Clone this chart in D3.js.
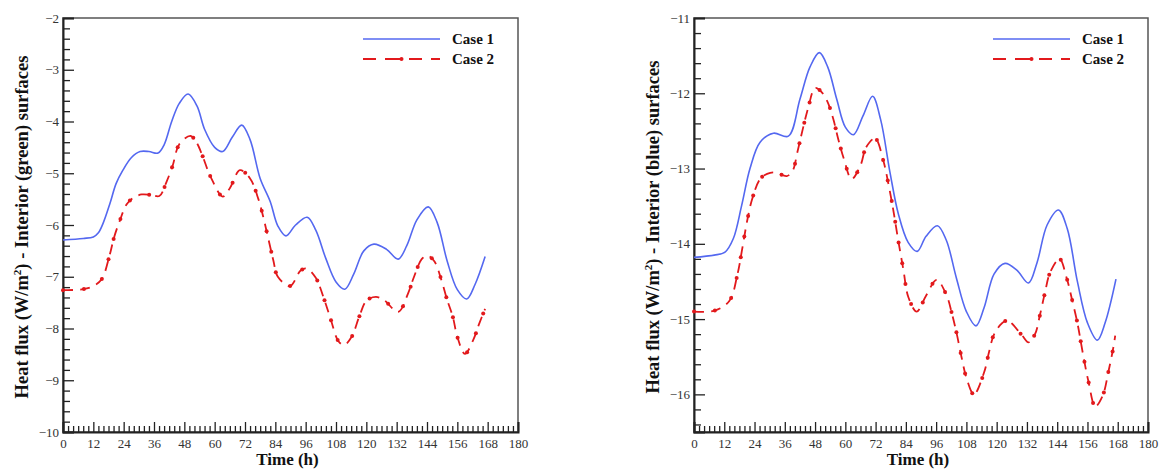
<!DOCTYPE html>
<html>
<head>
<meta charset="utf-8" />
<script src="https://d3js.org/d3.v7.min.js"></script>
<style>
  body { margin: 0; background: #fff; }
  svg, svg text { font-family: "Liberation Serif", "Times New Roman", serif; }
  .tick text { fill: #333; font-size: 13px; }
  .title { font-weight: bold; font-size: 17px; fill: #111; }
  .ytitle { font-size: 18.5px; }
  .legend text { font-weight: bold; font-size: 15px; fill: #111; }
</style>
</head>
<body>
<script>
  // Time (h) ticks
  var xTicks = [0, 12, 24, 36, 48, 60, 72, 84, 96, 108, 120, 132, 144, 156, 168, 180];
  var seriesNames = ["Case 1", "Case 2"];

  // Left panel: Interior (green) surfaces
  var greenC1T = [0, 8, 12, 14, 16, 18.6, 21, 23.7, 27, 30.5, 34, 37.6, 40, 43, 46, 49.5, 53, 56, 60, 63.2, 67, 70.7, 74, 78, 82, 85, 88.2, 92, 96.6, 100, 104, 108, 111.5, 115, 119, 123, 128, 132.6, 136, 140, 144.5, 148, 152, 156, 159.7, 163, 167];
  var greenC1V = [-6.29, -6.26, -6.23, -6.15, -5.95, -5.58, -5.2, -4.94, -4.7, -4.58, -4.58, -4.61, -4.45, -4.0, -3.65, -3.47, -3.7, -4.15, -4.5, -4.58, -4.3, -4.07, -4.35, -5.1, -5.55, -6.02, -6.21, -6.0, -5.85, -6.1, -6.65, -7.1, -7.24, -6.95, -6.5, -6.37, -6.47, -6.66, -6.4, -5.9, -5.65, -5.95, -6.7, -7.25, -7.43, -7.15, -6.61];
  var greenC2T = [0, 8, 12, 15.3, 18.3, 20.2, 22.3, 25.2, 28, 31.1, 35, 38.1, 41, 43.4, 46, 50.5, 53, 55.3, 58.4, 63.2, 66, 70, 74, 77.3, 79.2, 81.2, 83.2, 85, 89.8, 94, 96.4, 100, 103, 105.9, 108.9, 111.2, 114.2, 117.2, 120.1, 123.8, 127, 132.6, 136.6, 138.8, 141.9, 144.1, 146.9, 149.8, 151.8, 154.2, 156, 159, 162.3, 164.7, 167];
  var greenC2V = [-7.26, -7.24, -7.18, -7.05, -6.61, -6.24, -5.94, -5.6, -5.47, -5.41, -5.42, -5.44, -5.16, -4.85, -4.44, -4.28, -4.42, -4.68, -5.07, -5.45, -5.29, -4.94, -5.1, -5.5, -5.84, -6.26, -6.68, -7.0, -7.18, -6.88, -6.84, -7.02, -7.39, -7.82, -8.24, -8.32, -8.16, -7.77, -7.46, -7.39, -7.45, -7.68, -7.31, -7.01, -6.66, -6.59, -6.7, -7.08, -7.42, -7.77, -8.16, -8.49, -8.22, -7.9, -7.62];

  // Right panel: Interior (blue) surfaces
  var blueC1T = [0, 8, 12.3, 15.6, 18.9, 22.2, 26.2, 31.5, 37.4, 42, 46, 49.7, 53, 56.6, 60, 63.2, 67, 70.8, 74, 77.7, 81, 84.9, 88.5, 92, 96.5, 100, 104, 108, 111.8, 115, 119, 123.3, 128, 132.6, 136, 140, 144.5, 148, 152, 156, 159.9, 163, 167.3];
  var blueC1V = [-14.18, -14.15, -14.11, -13.93, -13.49, -13.0, -12.65, -12.53, -12.57, -12.08, -11.65, -11.46, -11.65, -12.08, -12.45, -12.55, -12.3, -12.04, -12.35, -13.05, -13.6, -13.98, -14.1, -13.9, -13.76, -13.95, -14.45, -14.9, -15.09, -14.85, -14.4, -14.26, -14.35, -14.52, -14.25, -13.75, -13.55, -13.8, -14.5, -15.05, -15.28, -15.05, -14.47];
  var blueC2T = [0, 7.9, 14, 17.2, 19.2, 21.1, 23.1, 26.2, 29, 32.1, 36.8, 39.1, 41, 43.1, 45.3, 48, 50.5, 52.9, 55.2, 57.2, 59.5, 62.5, 66.1, 68.2, 71.8, 75.1, 77, 79, 81, 83, 85, 88.3, 92, 96.2, 100.2, 102.2, 104.2, 106.1, 108.1, 111, 115, 117.1, 119.3, 124, 129.9, 132.6, 135.2, 137.2, 139.2, 141.2, 144.9, 147.8, 149.8, 152, 154.2, 156.4, 159.1, 162, 164.3, 166.3, 167];
  var blueC2V = [-14.9, -14.89, -14.76, -14.41, -14.05, -13.69, -13.4, -13.14, -13.07, -13.05, -13.1, -13.03, -12.78, -12.48, -12.19, -11.93, -11.98, -12.11, -12.34, -12.61, -12.88, -13.14, -12.95, -12.72, -12.6, -12.9, -13.19, -13.55, -13.96, -14.34, -14.71, -14.9, -14.69, -14.48, -14.69, -14.92, -15.2, -15.51, -15.79, -16.0, -15.71, -15.42, -15.18, -15.02, -15.21, -15.31, -15.2, -14.94, -14.64, -14.38, -14.2, -14.46, -14.73, -15.05, -15.46, -15.83, -16.16, -16.02, -15.7, -15.37, -15.22];

  var blue = "#5468f0", red = "#e2191c";
  var serif = "'Liberation Serif', 'Times New Roman', serif";

  var svg = d3.select("body").append("svg").attr("width", 1160).attr("height", 470);

  function zip(t, v) { return t.map(function(d, i) { return [d, v[i]]; }); }

  function drawPanel(o) {
    var x = d3.scaleLinear().domain([0, 180]).range([o.left, o.right]);
    var y = d3.scaleLinear().domain(o.yDomain).range([o.bottom, o.top]);
    var g = svg.append("g");

    // frame
    g.append("rect").attr("x", o.left).attr("y", o.top)
      .attr("width", o.right - o.left).attr("height", o.bottom - o.top)
      .attr("fill", "none").attr("stroke", "#555").attr("stroke-width", 1.5);

    // minor ticks
    var xMinor = d3.range(0, 181, 2).filter(function(d) { return d % 12 !== 0; });
    g.append("g").attr("transform", "translate(0," + o.bottom + ")")
      .call(d3.axisTop(x).tickValues(xMinor).tickSize(6).tickFormat(""))
      .call(function(s) { s.select(".domain").remove(); s.selectAll("line").attr("stroke", "#222").attr("stroke-width", 1.3); });
    var yMinor = d3.range(Math.round(o.yDomain[0] * 5), Math.round(o.yDomain[1] * 5) + 1)
      .map(function(d) { return d / 5; })
      .filter(function(d) { return Math.abs(d - Math.round(d)) > 1e-6; });
    g.append("g").attr("transform", "translate(" + o.left + ",0)")
      .call(d3.axisRight(y).tickValues(yMinor).tickSize(7).tickFormat(""))
      .call(function(s) { s.select(".domain").remove(); s.selectAll("line").attr("stroke", "#222").attr("stroke-width", 1.3); });

    // major ticks
    var xa = g.append("g").attr("transform", "translate(0," + o.bottom + ")")
      .call(d3.axisTop(x).tickValues(xTicks).tickSize(10).tickFormat(d3.format("d")))
      .attr("font-family", serif).attr("font-size", 13);
    xa.select(".domain").attr("stroke", "#222").attr("stroke-width", 2);
    xa.selectAll("line").attr("stroke", "#222").attr("stroke-width", 1.3);
    xa.selectAll("text").attr("y", 16).attr("dy", 0);

    var ya = g.append("g").attr("transform", "translate(" + o.left + ",0)")
      .call(d3.axisRight(y).tickValues(o.yTicks).tickSize(11).tickFormat(d3.format("d")))
      .attr("font-family", serif).attr("font-size", 13);
    ya.select(".domain").attr("stroke", "#222").attr("stroke-width", 2);
    ya.selectAll("line").attr("stroke", "#222").attr("stroke-width", 1.3);
    ya.selectAll("text").attr("x", -4).attr("text-anchor", "end");

    var line = d3.line().x(function(d) { return x(d[0]); }).y(function(d) { return y(d[1]); })
      .curve(d3.curveCatmullRom.alpha(0.5));

    g.append("path").datum(zip(o.c1t, o.c1v)).attr("d", line)
      .attr("fill", "none").attr("stroke", blue).attr("stroke-width", 1.6);

    var p2 = g.append("path").datum(zip(o.c2t, o.c2v)).attr("d", line)
      .attr("fill", "none").attr("stroke", red).attr("stroke-width", 1.8)
      .attr("stroke-dasharray", "10,7");

    // symbols along the dashed curve
    var node = p2.node(), len = node.getTotalLength();
    var pts = d3.range(0, len, 21).map(function(l) { return node.getPointAtLength(l); });
    g.selectAll(".sym").data(pts).enter().append("circle")
      .attr("cx", function(d) { return d.x; }).attr("cy", function(d) { return d.y; })
      .attr("r", 2).attr("fill", red);

    // axis titles
    g.append("text").attr("class", "title").attr("text-anchor", "middle")
      .attr("font-family", serif)
      .attr("x", (o.left + o.right) / 2 - 3).attr("y", 465).text("Time (h)");
    var yt = g.append("text").attr("class", "title ytitle").attr("text-anchor", "middle")
      .attr("font-family", serif)
      .attr("transform", "translate(" + o.yTitleX + "," + ((o.top + o.bottom) / 2 + 2) + ") rotate(-90)");
    yt.append("tspan").text("Heat flux (W/m");
    yt.append("tspan").attr("dy", -7).attr("font-size", "11px").text("2");
    yt.append("tspan").attr("dy", 7).text(") - Interior (" + o.surface + ") surfaces");

    // legend
    var lg = g.append("g").attr("class", "legend").attr("font-family", serif);
    var lx0 = o.right - 155, lx1 = o.right - 78;
    seriesNames.forEach(function(name, i) {
      var ly = o.top + 21 + i * 20;
      lg.append("line").attr("x1", lx0).attr("x2", lx1).attr("y1", ly).attr("y2", ly)
        .attr("stroke", i === 0 ? blue : red).attr("stroke-width", i === 0 ? 1.6 : 1.8)
        .attr("stroke-dasharray", i === 0 ? null : "13,9,15,9,13,9,13");
      if (i === 1) lg.append("circle").attr("cx", (lx0 + lx1) / 2).attr("cy", ly).attr("r", 2).attr("fill", red);
      lg.append("text").attr("x", lx1 + 12).attr("y", ly + 5).text(name);
    });
  }

  drawPanel({
    left: 63, right: 518, top: 18, bottom: 432,
    yDomain: [-10, -2], yTicks: d3.range(-10, -1), yTitleX: 28, surface: "green",
    c1t: greenC1T, c1v: greenC1V, c2t: greenC2T, c2v: greenC2V
  });
  drawPanel({
    left: 694, right: 1148, top: 18, bottom: 432,
    yDomain: [-16.5, -11], yTicks: d3.range(-16, -10), yTitleX: 659, surface: "blue",
    c1t: blueC1T, c1v: blueC1V, c2t: blueC2T, c2v: blueC2V
  });
</script>
</body>
</html>
